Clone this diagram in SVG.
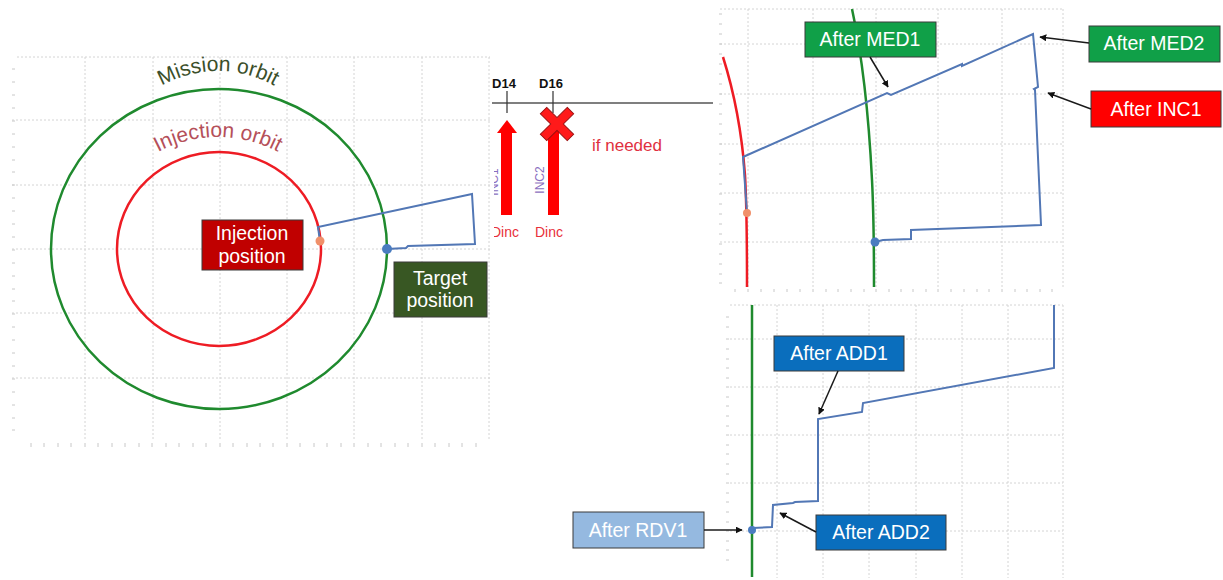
<svg xmlns="http://www.w3.org/2000/svg" width="1223" height="580" viewBox="0 0 1223 580">
<style>
.grid{stroke:#d4d4d4;stroke-width:1;stroke-dasharray:2 2;fill:none}
.tick{stroke:#c8c8c8;stroke-width:1}
.traj{stroke:#5277b5;stroke-width:2;fill:none;stroke-linejoin:miter}
.lbl{font-family:"Liberation Sans",Arial,sans-serif;font-size:19.5px;fill:#fff;text-anchor:middle}
.box{stroke:#3a3a3a;stroke-width:1}
.conn{stroke:#1a1a1a;stroke-width:1.5;fill:none;marker-end:url(#ah)}
.small{font-family:"Liberation Sans",Arial,sans-serif}
</style>
<defs>
<marker id="ah" viewBox="0 0 10 10" refX="9" refY="5" markerWidth="7" markerHeight="7" orient="auto" markerUnits="userSpaceOnUse">
<path d="M0,0 L10,5 L0,10 z" fill="#111"/>
</marker>
<path id="arcMission" d="M103,186 A115,115 0 0 1 333,186"/>
<path id="arcInjection" d="M90,265 A128,128 0 0 1 346,265"/>
<clipPath id="clipInc1"><rect x="494" y="140" width="40" height="110"/></clipPath>
</defs>
<rect width="1223" height="580" fill="#fff"/>

<!-- Left plot -->
<g id="left-plot">
<g class="grid">
<path d="M17,57 H490 M12,120 H490 M12,185 H490 M12,249 H490 M12,313 H490 M12,378 H490"/>
<path d="M85,57 V440 M153,57 V440 M220,57 V440 M287,57 V440 M354,57 V440 M422,57 V440 M489,57 V440"/>
</g>
<path class="tick" d="M12,69h3M12,82h3M12,95h3M12,108h3M12,121h3M12,134h3M12,147h3M12,160h3M12,172h3M12,185h3M12,198h3M12,211h3M12,224h3M12,237h3M12,250h3M12,263h3M12,276h3M12,289h3M12,301h3M12,314h3M12,327h3M12,340h3M12,353h3M12,366h3M12,379h3M12,392h3M12,405h3M12,418h3M12,430h3"/>
<path class="tick" d="M31,443v4M44,443v4M58,443v4M71,443v4M85,443v4M98,443v4M112,443v4M125,443v4M139,443v4M152,443v4M166,443v4M179,443v4M193,443v4M206,443v4M220,443v4M233,443v4M247,443v4M260,443v4M273,443v4M287,443v4M300,443v4M314,443v4M327,443v4M341,443v4M354,443v4M368,443v4M381,443v4M395,443v4M408,443v4M422,443v4M435,443v4M449,443v4M462,443v4M476,443v4"/>
<ellipse id="mission-orbit" cx="219" cy="249" rx="168" ry="160" fill="none" stroke="#1f8a2e" stroke-width="2.5"/>
<ellipse id="injection-orbit" cx="219" cy="249" rx="102" ry="97" fill="none" stroke="#ee1c24" stroke-width="2.5"/>
<text class="small" font-size="21" fill="#3b4f2a"><textPath href="#arcMission" startOffset="50%" text-anchor="middle">Mission orbit</textPath></text>
<text class="small" font-size="21" fill="#b5505a"><textPath href="#arcInjection" startOffset="50%" text-anchor="middle">Injection orbit</textPath></text>
<path class="traj" d="M320,241 L318,227 L472,194 L475,244 L408,246 L406,248 L387,249"/>
<circle cx="320" cy="241" r="4.5" fill="#f0906a"/>
<circle cx="387" cy="249" r="5" fill="#4a7cc0"/>
</g>
<g id="injection-position">
<rect class="box" x="202" y="220" width="101" height="50" fill="#c00000" stroke="#a00000"/>
<text class="lbl" x="252" y="240">Injection</text>
<text class="lbl" x="252" y="263">position</text>
</g>
<g id="target-position">
<rect class="box" x="394" y="262" width="93" height="55" fill="#385723" stroke="#2c4a1a"/>
<text class="lbl" x="440" y="285">Target</text>
<text class="lbl" x="440" y="307">position</text>
</g>

<!-- Timeline -->
<g id="timeline">
<path d="M492,103 H713" stroke="#555" stroke-width="1.5"/>
<path d="M507,91 V113 M553,91 V113" stroke="#333" stroke-width="1.2"/>
<text class="small" x="504" y="88" font-size="13" font-weight="bold" fill="#111" text-anchor="middle">D14</text>
<text class="small" x="551" y="88" font-size="13" font-weight="bold" fill="#111" text-anchor="middle">D16</text>
</g>
<g id="inc1-arrow">
<rect x="501" y="132" width="11" height="83" fill="#ff0000"/>
<polygon points="497,133 507,120 517,133" fill="#ff0000"/>
<g clip-path="url(#clipInc1)">
<text class="small" x="0" y="0" font-size="12" fill="#8a6fc0" text-anchor="middle" transform="translate(498,182) rotate(-90)">INC1</text>
<text class="small" x="505" y="237" font-size="14" fill="#e8303a" text-anchor="middle">Dinc</text>
</g>
</g>
<g id="inc2-arrow">
<rect x="548" y="130" width="11" height="85" fill="#ff0000"/>
<text class="small" x="0" y="0" font-size="12" fill="#8a6fc0" text-anchor="middle" transform="translate(544,180) rotate(-90)">INC2</text>
<text class="small" x="549" y="237" font-size="14" fill="#e8303a" text-anchor="middle">Dinc</text>
</g>
<g id="cross">
<polygon transform="translate(557,124) rotate(45)" points="-4.5,-19 4.5,-19 4.5,-4.5 19,-4.5 19,4.5 4.5,4.5 4.5,19 -4.5,19 -4.5,4.5 -19,4.5 -19,-4.5 -4.5,-4.5" fill="#ff1a1a" stroke="#9a1010" stroke-width="1"/>
</g>
<g id="if-needed">
<text class="small" x="592" y="151" font-size="17" fill="#e03040">if needed</text>
</g>

<!-- Top right plot -->
<g id="top-right-plot">
<g class="grid">
<path d="M720,9 H1063 M720,44 H1063 M720,94 H1063 M720,144 H1063 M720,193 H1063 M720,242 H1063"/>
<path d="M748,9 V288 M813,9 V288 M876,9 V288 M938,9 V288 M1002,9 V288 M1063,9 V288"/>
</g>
<path class="tick" d="M719,14h3M719,24h3M719,34h3M719,44h3M719,54h3M719,64h3M719,74h3M719,84h3M719,94h3M719,104h3M719,114h3M719,124h3M719,134h3M719,144h3M719,154h3M719,164h3M719,174h3M719,184h3M719,194h3M719,204h3M719,214h3M719,224h3M719,234h3M719,244h3M719,254h3M719,264h3M719,274h3M719,283h3"/>
<path class="tick" d="M735,289v3M748,289v3M761,289v3M774,289v3M787,289v3M800,289v3M813,289v3M826,289v3M838,289v3M851,289v3M864,289v3M876,289v3M889,289v3M901,289v3M913,289v3M926,289v3M938,289v3M951,289v3M964,289v3M977,289v3M989,289v3M1002,289v3M1015,289v3M1027,289v3M1040,289v3M1052,289v3"/>
<path d="M723,57 C735,95 742,135 745,175 C747,210 747,250 747,287" stroke="#ee1c24" stroke-width="2.5" fill="none"/>
<path d="M852,9 C862,55 869,120 872,180 C874,220 874,260 874,287" stroke="#1f8a2e" stroke-width="2.5" fill="none"/>
<path class="traj" d="M747,213 L743,157 L887,93 L891,95 L962,64 L962,66 L1033,34 L1038,87 L1034,89 L1035,90 L1041,225 L911,230 L911,239 L883,240 L875,242"/>
<circle cx="747" cy="213" r="4" fill="#f0906a"/>
<circle cx="875" cy="242" r="4.5" fill="#4a7cc0"/>
</g>

<!-- Bottom right plot -->
<g id="bottom-right-plot">
<g class="grid">
<path d="M730,305 H1063 M730,339 H1063 M730,387 H1063 M730,435 H1063 M730,483 H1063 M730,531 H1063"/>
<path d="M777,305 V578 M823,305 V578 M869,305 V578 M916,305 V578 M962,305 V578 M1008,305 V578 M1063,305 V578"/>
</g>
<path class="tick" d="M726,317h3M726,327h3M726,339h3M726,349h3M726,359h3M726,368h3M726,378h3M726,387h3M726,397h3M726,406h3M726,416h3M726,426h3M726,435h3M726,445h3M726,454h3M726,464h3M726,474h3M726,483h3M726,493h3M726,502h3M726,512h3M726,522h3M726,531h3M726,541h3M726,550h3M726,560h3"/>
<path d="M752,305 V577" stroke="#1f8a2e" stroke-width="2.5"/>
<path class="traj" d="M752,528 L772,527 L773,505 L793,503 L795,502 L818,501 L818,419 L862,412 L863,403 L1054,368 L1054,305"/>
<circle cx="752" cy="530" r="4" fill="#4a7cc0"/>
</g>

<!-- Labels -->
<g id="after-med1">
<rect class="box" x="805" y="22" width="131" height="35" fill="#10a048"/>
<text class="lbl" x="870" y="46">After MED1</text>
</g>
<g id="after-med2">
<rect class="box" x="1089" y="26" width="131" height="36" fill="#10a048"/>
<text class="lbl" x="1154" y="50">After MED2</text>
</g>
<g id="after-inc1">
<rect class="box" x="1091" y="91" width="130" height="36" fill="#ff0000"/>
<text class="lbl" x="1156" y="116">After INC1</text>
</g>
<g id="after-add1">
<rect class="box" x="774" y="336" width="130" height="35" fill="#0a6ebd"/>
<text class="lbl" x="839" y="360">After ADD1</text>
</g>
<g id="after-add2">
<rect class="box" x="816" y="515" width="130" height="35" fill="#0a6ebd"/>
<text class="lbl" x="881" y="539">After ADD2</text>
</g>
<g id="after-rdv1">
<rect class="box" x="573" y="512" width="131" height="36" fill="#95b9e0" stroke="#4a5a6a"/>
<text class="lbl" x="638" y="537">After RDV1</text>
</g>

<g id="connectors">
<path class="conn" d="M870,57 L888,87"/>
<path class="conn" d="M1089,43 L1040,37"/>
<path class="conn" d="M1091,109 L1048,93"/>
<path class="conn" d="M838,371 L819,414"/>
<path class="conn" d="M816,532 L780,513"/>
<path class="conn" d="M704,530 L742,530"/>
</g>
</svg>
